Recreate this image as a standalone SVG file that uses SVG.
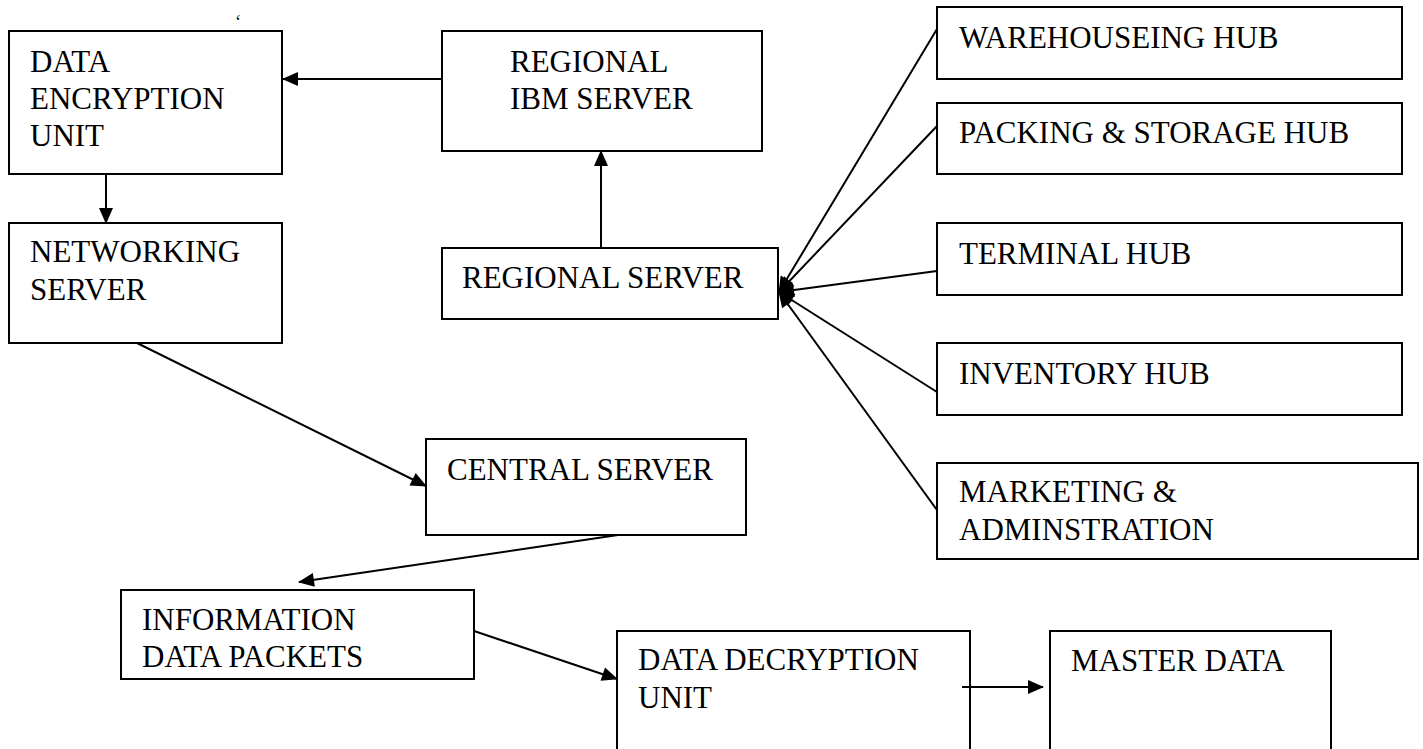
<svg xmlns="http://www.w3.org/2000/svg" width="1423" height="749" viewBox="0 0 1423 749">
<style>
.box{fill:#fff;stroke:#000;stroke-width:2}
.t{font-family:"Liberation Serif","Times New Roman",serif;font-size:31px;fill:#000}
.c{stroke:#000;stroke-width:2;fill:none}
.a{marker-end:url(#ah)}
</style>
<defs>
<marker id="ah" markerUnits="userSpaceOnUse" markerWidth="16" markerHeight="14" refX="15" refY="7" orient="auto" overflow="visible">
<path d="M0,0 L16,7 L0,14 Z" fill="#000"/>
</marker>
</defs>
<rect width="1423" height="749" fill="#fff"/>
<text x="235" y="28" style="font-family:'Liberation Serif',serif;font-size:18px">‘</text>
<g id="data-encryption-unit">
<rect class="box" x="9" y="31" width="273" height="143"/>
<text class="t" x="30" y="72">DATA</text>
<text class="t" x="30" y="109">ENCRYPTION</text>
<text class="t" x="30" y="146">UNIT</text>
</g>
<g id="networking-server">
<rect class="box" x="9" y="223" width="273" height="120"/>
<text class="t" x="30" y="262">NETWORKING</text>
<text class="t" x="30" y="300">SERVER</text>
</g>
<g id="regional-ibm-server">
<rect class="box" x="442" y="31" width="320" height="120"/>
<text class="t" x="510" y="72">REGIONAL</text>
<text class="t" x="510" y="109">IBM SERVER</text>
</g>
<g id="regional-server">
<rect class="box" x="442" y="248" width="336" height="71"/>
<text class="t" x="462" y="288">REGIONAL SERVER</text>
</g>
<g id="warehouseing-hub">
<rect class="box" x="937" y="7" width="465" height="72"/>
<text class="t" x="959" y="48">WAREHOUSEING HUB</text>
</g>
<g id="packing-storage-hub">
<rect class="box" x="937" y="103" width="465" height="71"/>
<text class="t" x="959" y="143">PACKING &amp; STORAGE HUB</text>
</g>
<g id="terminal-hub">
<rect class="box" x="937" y="223" width="465" height="72"/>
<text class="t" x="959" y="264">TERMINAL HUB</text>
</g>
<g id="inventory-hub">
<rect class="box" x="937" y="343" width="465" height="72"/>
<text class="t" x="959" y="384">INVENTORY HUB</text>
</g>
<g id="marketing-adminstration">
<rect class="box" x="937" y="463" width="481" height="96"/>
<text class="t" x="959" y="502">MARKETING &amp;</text>
<text class="t" x="959" y="540">ADMINSTRATION</text>
</g>
<g id="central-server">
<rect class="box" x="426" y="439" width="320" height="96"/>
<text class="t" x="447" y="480">CENTRAL SERVER</text>
</g>
<g id="information-data-packets">
<rect class="box" x="121" y="590" width="353" height="89"/>
<text class="t" x="142" y="630">INFORMATION</text>
<text class="t" x="142" y="667">DATA PACKETS</text>
</g>
<g id="data-decryption-unit">
<rect class="box" x="617" y="631" width="353" height="130"/>
<text class="t" x="638" y="670">DATA DECRYPTION</text>
<text class="t" x="638" y="708">UNIT</text>
</g>
<g id="master-data">
<rect class="box" x="1050" y="631" width="281" height="130"/>
<text class="t" x="1071" y="671">MASTER DATA</text>
</g>
<g id="connectors">
<line class="c a" x1="442" y1="79" x2="283" y2="79"/>
<line class="c a" x1="106" y1="174" x2="106" y2="223"/>
<line class="c a" x1="601" y1="248" x2="601" y2="151"/>
<line class="c a" x1="937" y1="29" x2="779" y2="292"/>
<line class="c a" x1="937" y1="126" x2="779" y2="292"/>
<line class="c a" x1="937" y1="271" x2="779" y2="292"/>
<line class="c a" x1="937" y1="392" x2="779" y2="292"/>
<line class="c a" x1="937" y1="510" x2="779" y2="292"/>
<line class="c a" x1="137" y1="343" x2="426" y2="486"/>
<line class="c a" x1="618" y1="535" x2="299" y2="582"/>
<line class="c a" x1="474" y1="631" x2="617" y2="679"/>
<line class="c a" x1="962" y1="687" x2="1043" y2="687"/>
</g>
</svg>
